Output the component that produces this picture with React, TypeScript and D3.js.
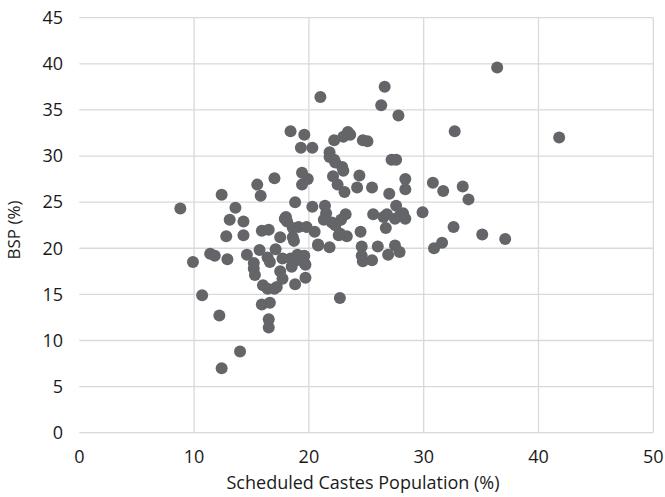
import React from "react";
import * as d3 from "d3";

const scPopulation: number[] = [
  8.8, 9.9, 10.7, 11.4, 11.8, 12.2, 12.4, 12.4, 12.8, 12.9, 13.1, 13.6, 14.0, 14.3, 14.3, 14.6,
  15.2, 15.2, 15.3, 15.5, 15.8, 15.7, 15.9, 16.0, 15.9, 16.5, 16.4, 16.6, 16.6, 16.5, 16.5,
  17.0, 17.1, 17.2, 17.5, 17.5, 17.7, 17.7, 17.9, 18.0, 18.1, 18.4, 18.4, 18.5, 18.6, 18.7,
  18.8, 18.8, 19.0, 19.1, 19.3, 19.4, 19.4, 19.6, 19.6, 19.6, 19.7, 19.8, 19.9, 20.3, 20.3,
  20.5, 20.8, 21.0, 21.4, 21.5, 21.3, 21.8, 21.8, 21.8, 22.0, 22.1, 22.2, 22.2, 22.5, 22.7,
  22.7, 22.8, 23.0, 22.9, 23.1, 23.2, 23.3, 23.4, 23.6, 24.2, 24.4, 24.5, 24.6, 24.6, 24.7,
  24.7, 25.1, 25.5, 25.6, 25.5, 26.0, 26.3, 26.6, 26.7, 26.8, 26.9, 27.0, 27.2, 27.6, 27.5,
  27.6, 27.5, 27.8, 27.9, 28.2, 28.4, 28.4, 28.4, 29.9, 30.8, 30.9, 31.6, 31.7, 32.6, 32.7,
  33.4, 33.9, 35.1, 36.4, 37.1, 41.8,
  18.6, 19.5, 18.9, 19.7, 22.3, 22.3, 23.0, 26.5, 27.9, 16.4, 17.0, 22.6, 20.8,
];

const bspShare: number[] = [
  24.3, 18.5, 14.9, 19.4, 19.2, 12.7, 25.8, 7.0, 21.3, 18.8, 23.1, 24.4, 8.8, 22.9, 21.4, 19.3,
  18.4, 17.8, 17.1, 26.9, 25.7, 19.8, 21.9, 16.0, 13.9, 22.0, 19.0, 18.5, 14.1, 12.3, 11.4,
  27.6, 19.9, 15.8, 21.2, 17.5, 16.7, 18.9, 23.2, 23.4, 22.9, 32.7, 18.9, 18.0, 21.2, 20.8,
  25.0, 16.1, 19.3, 22.3, 30.9, 28.2, 26.9, 32.3, 19.2, 18.4, 16.8, 22.3, 27.5, 30.9, 24.5,
  21.8, 20.3, 36.4, 24.6, 23.8, 23.1, 30.4, 29.9, 20.1, 22.8, 27.8, 29.6, 31.7, 26.9, 21.6,
  14.6, 23.1, 32.1, 28.8, 26.1, 23.7, 21.3, 32.6, 32.3, 26.6, 27.9, 21.8, 20.2, 19.2, 18.6,
  31.7, 31.6, 26.6, 23.7, 18.7, 20.2, 35.5, 37.5, 22.2, 23.7, 19.3, 25.9, 29.6, 29.6, 23.2,
  24.6, 20.3, 34.4, 19.6, 23.8, 27.5, 26.4, 23.2, 23.9, 27.1, 20.0, 20.6, 26.2, 22.3, 32.7,
  26.7, 25.3, 21.5, 39.6, 21.0, 32.0,
  22.2, 19.1, 18.7, 18.2, 22.5, 29.3, 28.4, 23.4, 23.5, 15.6, 15.6, 21.4, 20.4,
];

const xTicks: number[] = [0, 10, 20, 30, 40, 50];
const yTicks: number[] = [0, 5, 10, 15, 20, 25, 30, 35, 40, 45];
const xTitle = "Scheduled Castes Population (%)";
const yTitle = "BSP (%)";

const W = 665;
const H = 497;
const FONT = "'Open Sans', sans-serif";

export default function App() {
  const x = d3.scaleLinear().domain([0, 50]).range([79.3, 653.3]);
  const y = d3.scaleLinear().domain([0, 45]).range([432.7, 17.7]);
  const points = scPopulation.map((v, i) => ({ x: v, y: bspShare[i] }));
  const grid = "#d9d9d9";
  return (
    <div style={{ position: "absolute", left: 0, top: 0 }}>
      <svg width={W} height={H} style={{ display: "block", background: "#fff" }}>
        {yTicks.map((t) => (
          <line key={"gy" + t} x1={x(0)} x2={x(50)} y1={y(t)} y2={y(t)} stroke={grid} strokeWidth={1.3} />
        ))}
        {xTicks.filter((t) => t > 0).map((t) => (
          <line key={"gx" + t} x1={x(t)} x2={x(t)} y1={y(0)} y2={y(45)} stroke={grid} strokeWidth={1.3} />
        ))}
        {yTicks.map((t) => (
          <text key={"ty" + t} x={63} y={y(t)} dy="0.35em" textAnchor="end" fontFamily={FONT} fontSize={18} fill="#1a1a1a">
            {t}
          </text>
        ))}
        {xTicks.map((t) => (
          <text key={"tx" + t} x={x(t)} y={463} textAnchor="middle" fontFamily={FONT} fontSize={18} fill="#1a1a1a">
            {t}
          </text>
        ))}
        {points.map((p, i) => (
          <circle key={i} cx={x(p.x)} cy={y(p.y)} r={6} fill="#646569" />
        ))}
        <text x={363} y={489} textAnchor="middle" fontFamily={FONT} fontSize={18} fill="#1a1a1a">
          {xTitle}
        </text>
        <text
          transform={`translate(20,230) rotate(-90)`}
          textAnchor="middle"
          fontFamily={FONT}
          fontSize={17}
          fill="#1a1a1a"
        >
          {yTitle}
        </text>
      </svg>
    </div>
  );
}
